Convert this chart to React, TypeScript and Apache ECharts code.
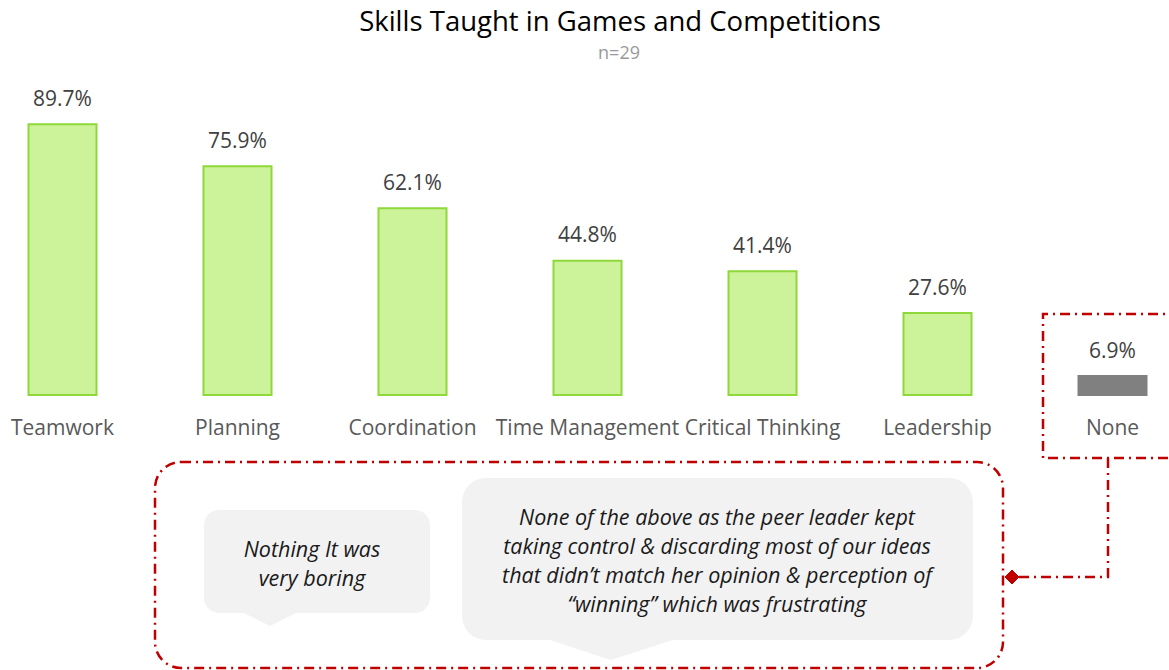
import React, { useEffect, useRef } from "react";
import * as echarts from "echarts";

const categories = ["Teamwork", "Planning", "Coordination", "Time Management", "Critical Thinking", "Leadership", "None"];
const values = [89.7, 75.9, 62.1, 44.8, 41.4, 27.6, 6.9];
const titleText = "Skills Taught in Games and Competitions";
const subtitleText = "n=29";
const quoteOne = ["Nothing It was", "very boring"];
const quoteTwo = [
  "None of the above as the peer leader kept",
  "taking control & discarding most of our ideas",
  "that didn\u2019t match her opinion & perception of",
  "\u201cwinning\u201d which was frustrating",
];

const RED = "#C00000";
const DASH = [10, 5, 2, 5];
const FONT = "'Open Sans', 'Noto Sans', sans-serif";
const SHIFT = 25;

export default function App() {
  const ref = useRef<HTMLDivElement>(null);
  useEffect(() => {
    document.body.style.margin = "0";
    const chart = echarts.init(ref.current!, null, { renderer: "svg" });
    const quoteTexts: any[] = [];
    quoteOne.forEach((t, i) => {
      quoteTexts.push({
        type: "text",
        x: 312,
        y: 548 + i * 29,
        style: { text: t, fill: "#1a1a1a", font: `italic 21.5px ${FONT}`, align: "center", verticalAlign: "middle" },
        z: 20,
      });
    });
    quoteTwo.forEach((t, i) => {
      quoteTexts.push({
        type: "text",
        x: 717,
        y: 516 + i * 29.3,
        style: { text: t, fill: "#1a1a1a", font: `italic 21.5px ${FONT}`, align: "center", verticalAlign: "middle" },
        z: 20,
      });
    });
    chart.setOption({
      animation: false,
      grid: { left: 0, right: 0, top: 92, height: 304, containLabel: false },
      xAxis: {
        type: "category",
        data: categories,
        axisLine: { show: false },
        axisTick: { show: false },
        axisLabel: { color: "#595959", fontSize: 21, fontFamily: FONT, margin: 20, interval: 0 },
      },
      yAxis: { type: "value", min: 0, max: 100, show: false, splitLine: { show: false } },
      series: [
        {
          type: "bar",
          data: values.map((v, i) =>
            i === values.length - 1
              ? { value: v, itemStyle: { color: "#808080", borderColor: "#808080", borderWidth: 0 } }
              : v
          ),
          barWidth: 70,
          itemStyle: { color: "#CCF39A", borderColor: "#8FD83A", borderWidth: 2 },
          label: {
            show: true,
            position: "top",
            distance: 15,
            formatter: (p: any) => p.value.toFixed(1) + "%",
            color: "#404040",
            fontSize: 21,
            fontFamily: FONT,
          },
        },
      ],
      graphic: [
        {
          type: "group",
          x: SHIFT,
          y: 0,
          children: [
            {
              type: "text",
              x: 620,
              y: 20,
              style: { text: titleText, fill: "#000", font: `27.5px ${FONT}`, align: "center", verticalAlign: "middle" },
            },
            {
              type: "text",
              x: 619,
              y: 52,
              style: { text: subtitleText, fill: "#9a9a9a", font: `18px ${FONT}`, align: "center", verticalAlign: "middle" },
            },
            {
              type: "rect",
              shape: { x: 155, y: 462, width: 848, height: 206, r: 26 },
              style: { fill: "none", stroke: RED, lineWidth: 2.5, lineDash: DASH },
            },
            {
              type: "polyline",
              shape: { points: [[1180, 314], [1043, 314], [1043, 458], [1180, 458]] },
              style: { fill: "none", stroke: RED, lineWidth: 2.5, lineDash: DASH },
            },
            {
              type: "polyline",
              shape: { points: [[1108, 458], [1108, 577], [1016, 577]] },
              style: { fill: "none", stroke: RED, lineWidth: 2.5, lineDash: DASH },
            },
            {
              type: "polygon",
              shape: { points: [[1012, 570], [1019, 577], [1012, 584], [1005, 577]] },
              style: { fill: RED, stroke: RED },
            },
            {
              type: "rect",
              shape: { x: 204, y: 510, width: 226, height: 103, r: 15 },
              style: { fill: "#F2F2F2" },
              z: 10,
            },
            {
              type: "polygon",
              shape: { points: [[242, 612], [298, 612], [270, 626]] },
              style: { fill: "#F2F2F2" },
              z: 10,
            },
            {
              type: "rect",
              shape: { x: 462, y: 478, width: 511, height: 162, r: 24 },
              style: { fill: "#F2F2F2" },
              z: 10,
            },
            {
              type: "polygon",
              shape: { points: [[547, 639], [676, 639], [611, 660]] },
              style: { fill: "#F2F2F2" },
              z: 10,
            },
            ...quoteTexts,
          ],
        },
      ],
    });
    return () => chart.dispose();
  }, []);
  return (
    <div style={{ width: 1169, height: 670, overflow: "hidden", position: "relative" }}>
      <div ref={ref} style={{ width: 1225, height: 670, position: "absolute", left: -SHIFT, top: 0 }} />
    </div>
  );
}
